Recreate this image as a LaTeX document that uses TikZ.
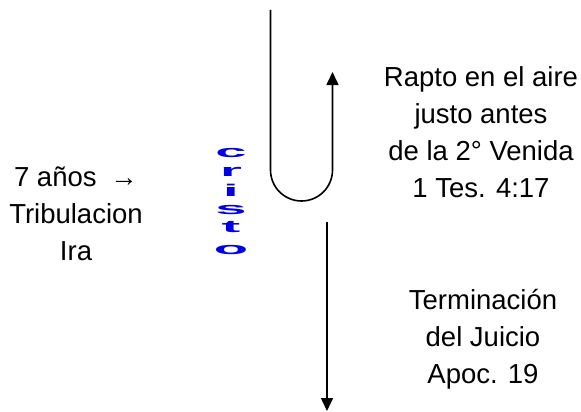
\documentclass[tikz,border=0pt]{standalone}
\usepackage{fontspec}
\setmainfont{Liberation Sans}
\usetikzlibrary{arrows.meta}
\begin{document}
\begin{tikzpicture}[x=1pt,y=-1pt,
  lbl/.style={align=center,font=\fontsize{27.5}{37}\selectfont,inner sep=0pt,anchor=base},
  ltr/.style={font=\fontsize{17}{17}\selectfont\bfseries,text={rgb,255:red,0;green,0;blue,230},inner sep=0pt,anchor=base,xscale=3.3},
  ln/.style={line width=1.6pt,black},
  tip/.style={-{Triangle[width=12pt,length=13pt]}}]
\useasboundingbox (0,0) rectangle (581,412);
% text blocks
\node[lbl] (rapto) at (481,197) {Rapto en el aire\\justo antes\\de la 2° Venida\\1 Tes. 4:17};
\node[lbl] (term) at (483,383) {Terminación\\del Juicio\\Apoc. 19};
\node[lbl] (siete) at (76,260) {7 años\enspace→\\Tribulacion\\Ira};
% Cristo
\node[ltr] (c1) at (231,157) {c};
\node[ltr] (c2) at (231,176) {r};
\node[ltr] (c3) at (231,196) {i};
\node[ltr] (c4) at (231,214) {s};
\node[ltr] (c5) at (231,232) {t};
\node[ltr] (c6) at (231,254) {o};
% U-turn
\coordinate (utop) at (270.5,10);
\coordinate (ubend) at (270.5,170);
\coordinate (utip) at (332.5,72);
\draw[ln,tip] (utop) -- (ubend) arc[start angle=180,end angle=0,radius=31] -- (utip);
% down arrow
\coordinate (dtop) at (327,222);
\coordinate (dtip) at (327,411);
\draw[ln,tip] (dtop) -- (dtip);
\end{tikzpicture}
\end{document}
